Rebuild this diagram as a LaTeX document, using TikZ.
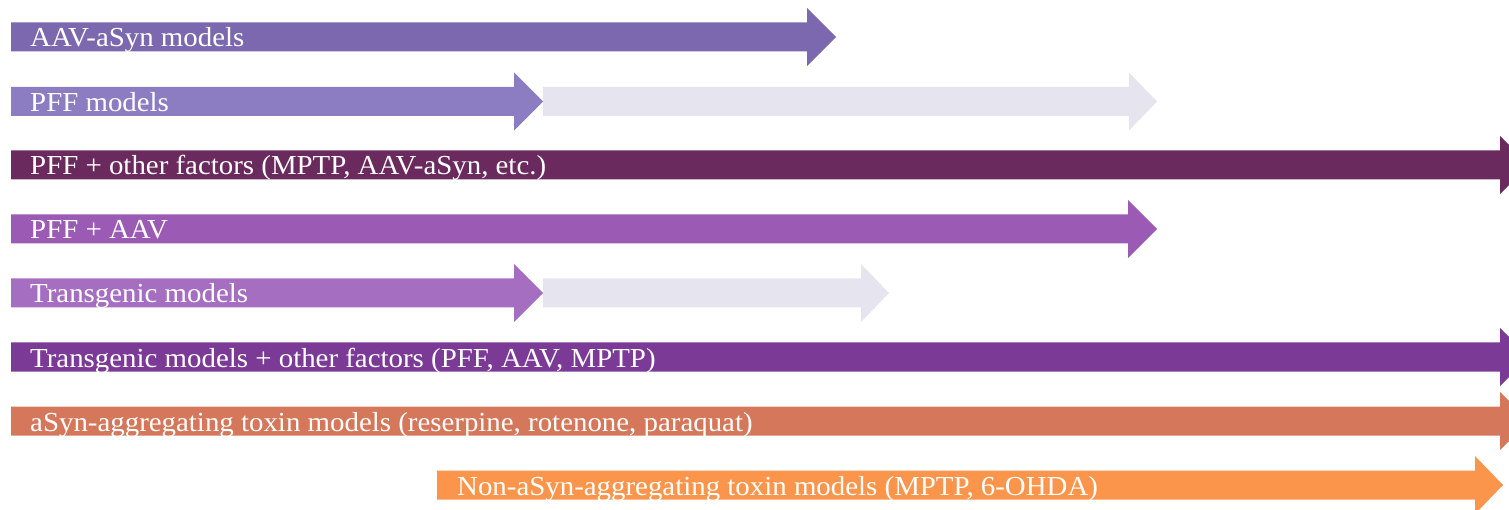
\documentclass[tikz,border=0pt]{standalone}
\usepackage{fontspec}
\setmainfont{Liberation Serif}[FakeStretch=1.05]
\definecolor{cA}{RGB}{123,104,174}
\definecolor{cB}{RGB}{140,124,194}
\definecolor{cG}{RGB}{230,228,239}
\definecolor{cC}{RGB}{107,42,94}
\definecolor{cD}{RGB}{155,90,180}
\definecolor{cE}{RGB}{166,110,192}
\definecolor{cF}{RGB}{123,58,150}
\definecolor{cH}{RGB}{212,119,90}
\definecolor{cI}{RGB}{250,149,75}
% #1 start x, #2 head start, #3 tip, #4 centre y, #5 colour
\newcommand{\arrowbar}[5]{%
  \fill[#5] (#1,#4-14.5) -- (#2,#4-14.5) -- (#2,#4-29) -- (#3,#4) -- (#2,#4+29) -- (#2,#4+14.5) -- (#1,#4+14.5) -- cycle;}
\tikzset{lbl/.style={anchor=base west,text=white,inner sep=0pt,font=\fontsize{27.5}{30}\selectfont}}
\begin{document}
\begin{tikzpicture}[x=1pt,y=-1pt]
\useasboundingbox (0,0) rectangle (1509,510);
\clip (0,0) rectangle (1509,510);
\arrowbar{11}{807}{836}{37}{cA}
\arrowbar{543}{1129}{1157}{101.5}{cG}
\arrowbar{11}{514}{543}{101.5}{cB}
\arrowbar{11}{1500}{1529}{165}{cC}
\arrowbar{11}{1128}{1157}{229}{cD}
\arrowbar{543}{861}{889}{293}{cG}
\arrowbar{11}{514}{543}{293}{cE}
\arrowbar{11}{1500}{1529}{357}{cF}
\arrowbar{11}{1500}{1529}{421}{cH}
\arrowbar{437}{1475}{1503}{485}{cI}
\node[lbl] (t1) at (30,47) {AAV-aSyn models};
\node[lbl] (t2) at (30,111.5) {PFF models};
\node[lbl] (t3) at (30,175) {PFF + other factors (MPTP, AAV-aSyn, etc.)};
\node[lbl] (t4) at (30,239) {PFF + AAV};
\node[lbl] (t5) at (30,303) {Transgenic models};
\node[lbl] (t6) at (30,367) {Transgenic models + other factors (PFF, AAV, MPTP)};
\node[lbl] (t7) at (30,431) {aSyn-aggregating toxin models (reserpine, rotenone, paraquat)};
\node[lbl] (t8) at (457,495) {Non-aSyn-aggregating toxin models (MPTP, 6-OHDA)};
\end{tikzpicture}
\end{document}
